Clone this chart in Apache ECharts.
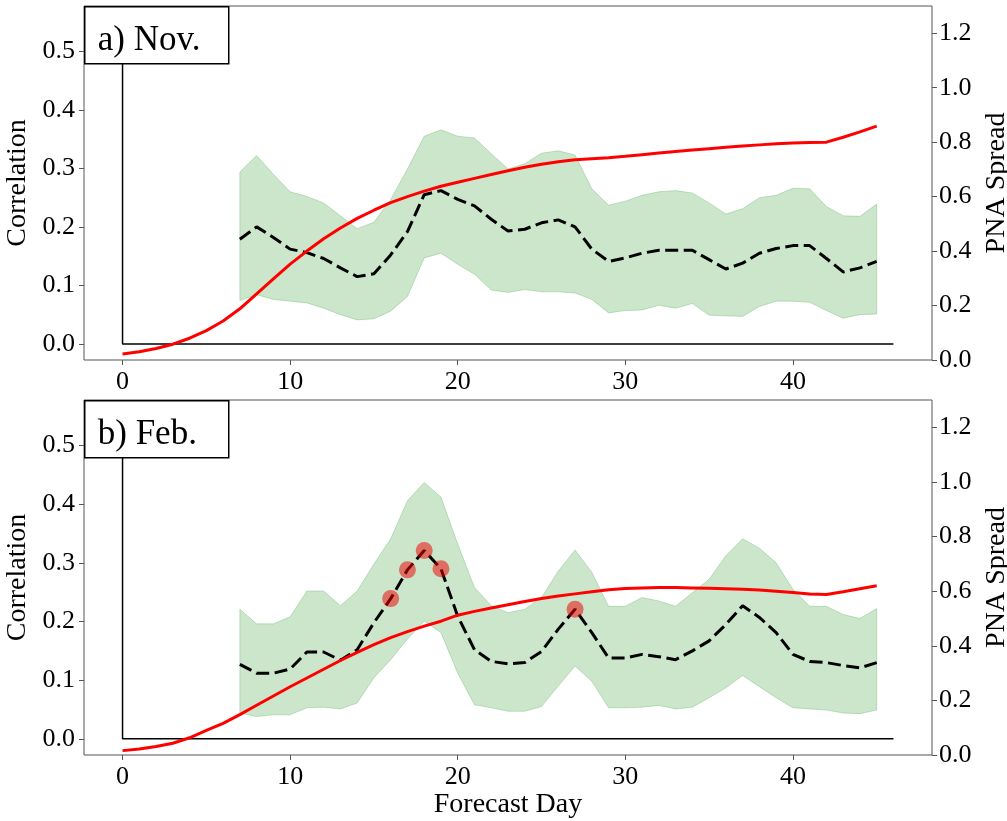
<!DOCTYPE html>
<html>
<head>
<meta charset="utf-8">
<script src="https://cdn.jsdelivr.net/npm/echarts@6/dist/echarts.min.js"></script>
<style>
  html, body { margin: 0; padding: 0; background: #fff; }
  #chart { width: 1007px; height: 821px; }
</style>
</head>
<body>
<div id="chart"></div>
<script>
// Forecast days
const spreadDays = [0,1,2,3,4,5,6,7,8,9,10,11,12,13,14,15,16,17,18,19,20,21,22,23,24,25,26,27,28,29,30,31,32,33,34,35,36,37,38,39,40,41,42,43,44,45];
const corrDays = [7,8,9,10,11,12,13,14,15,16,17,18,19,20,21,22,23,24,25,26,27,28,29,30,31,32,33,34,35,36,37,38,39,40,41,42,43,44,45];

// a) November: mean correlation, its spread band, and PNA spread
const novCorr  = [0.179,0.200,0.182,0.162,0.156,0.146,0.130,0.115,0.120,0.152,0.192,0.255,0.262,0.247,0.236,0.213,0.193,0.196,0.207,0.212,0.200,0.162,0.141,0.147,0.155,0.160,0.160,0.160,0.144,0.128,0.138,0.155,0.163,0.168,0.168,0.146,0.123,0.130,0.141];
const novUpper = [0.294,0.322,0.290,0.260,0.252,0.241,0.219,0.197,0.208,0.247,0.299,0.355,0.366,0.355,0.352,0.325,0.299,0.308,0.326,0.330,0.323,0.265,0.237,0.244,0.254,0.260,0.262,0.258,0.241,0.222,0.231,0.250,0.254,0.266,0.265,0.235,0.219,0.218,0.239];
const novLower = [0.074,0.084,0.076,0.073,0.070,0.061,0.050,0.041,0.043,0.056,0.081,0.147,0.155,0.136,0.119,0.092,0.088,0.093,0.089,0.089,0.087,0.076,0.053,0.057,0.058,0.066,0.061,0.069,0.049,0.048,0.047,0.064,0.073,0.073,0.071,0.057,0.044,0.050,0.051];
const novSpread = [0.022,0.030,0.042,0.058,0.080,0.108,0.143,0.188,0.243,0.298,0.352,0.400,0.445,0.485,0.520,0.550,0.578,0.600,0.620,0.638,0.653,0.667,0.681,0.695,0.708,0.719,0.728,0.735,0.739,0.743,0.748,0.754,0.760,0.766,0.771,0.776,0.781,0.786,0.790,0.794,0.797,0.799,0.800,0.818,0.838,0.859];

// b) February
const febCorr  = [0.127,0.112,0.112,0.119,0.148,0.148,0.134,0.152,0.198,0.239,0.288,0.321,0.290,0.209,0.152,0.132,0.128,0.130,0.149,0.187,0.221,0.181,0.138,0.138,0.144,0.140,0.135,0.150,0.167,0.195,0.227,0.207,0.181,0.144,0.132,0.130,0.125,0.121,0.130];
const febUpper = [0.221,0.196,0.196,0.208,0.252,0.252,0.227,0.252,0.298,0.341,0.406,0.437,0.412,0.332,0.258,0.227,0.215,0.221,0.241,0.286,0.322,0.284,0.226,0.226,0.241,0.235,0.226,0.249,0.272,0.312,0.341,0.325,0.300,0.255,0.226,0.226,0.212,0.205,0.222];
const febLower = [0.044,0.038,0.041,0.041,0.053,0.054,0.051,0.061,0.104,0.135,0.170,0.201,0.181,0.112,0.058,0.053,0.047,0.047,0.055,0.090,0.124,0.098,0.053,0.053,0.054,0.057,0.051,0.054,0.070,0.087,0.108,0.089,0.070,0.053,0.051,0.049,0.044,0.043,0.049];
const febSpread = [0.016,0.022,0.031,0.043,0.063,0.090,0.116,0.148,0.182,0.216,0.250,0.282,0.314,0.346,0.376,0.404,0.430,0.452,0.472,0.490,0.512,0.526,0.538,0.550,0.562,0.573,0.582,0.590,0.598,0.605,0.610,0.612,0.613,0.613,0.612,0.611,0.609,0.607,0.604,0.600,0.595,0.590,0.588,0.598,0.609,0.620];
// days whose correlation is marked as significant
const febSignifDays = [16,17,18,19,27];

// reference lines: x = 0 and y = 0
const refLine = [[0, 0.55], [0, 0], [46, 0]];

// tick labels
const xTicks = [0, 10, 20, 30, 40];
const corrTicks = [0, 0.1, 0.2, 0.3, 0.4, 0.5];
const spreadTicks = [0, 0.2, 0.4, 0.6, 0.8, 1.0, 1.2];
const panelTitles = ['a) Nov.', 'b) Feb.'];

const FONT = '"Liberation Serif", "Times New Roman", Times, serif';
const FRAME = '#555';

const chart = echarts.init(document.getElementById('chart'), null, { renderer: 'canvas' });

const grids = [
  { left: 84, top: 6, width: 848, height: 354 },
  { left: 84, top: 400, width: 848, height: 355 }
];

function xAxisFor(i) {
  return {
    type: 'value', gridIndex: i, min: -2.3, max: 48.3,
    name: i === 1 ? 'Forecast Day' : '',
    nameLocation: 'middle', nameGap: 36,
    nameTextStyle: { fontFamily: FONT, fontSize: 28, color: '#000' },
    axisLine: { show: false, onZero: false },
    axisTick: { show: true, inside: false, length: 5, customValues: xTicks, lineStyle: { color: FRAME, width: 1 } },
    axisLabel: { customValues: xTicks, fontFamily: FONT, fontSize: 26, color: '#000', margin: 9 },
    splitLine: { show: false }
  };
}
function corrAxisFor(i) {
  return {
    type: 'value', gridIndex: i, position: 'left', min: -0.0275, max: 0.5775,
    name: 'Correlation', nameLocation: 'middle', nameGap: 49, nameRotate: 90,
    nameTextStyle: { fontFamily: FONT, fontSize: 28, color: '#000' },
    axisLine: { show: false, onZero: false },
    axisTick: { show: true, inside: false, length: 5, customValues: corrTicks, lineStyle: { color: FRAME, width: 1 } },
    axisLabel: { customValues: corrTicks, formatter: v => v.toFixed(1), fontFamily: FONT, fontSize: 26, color: '#000', margin: 9 },
    splitLine: { show: false }
  };
}
function spreadAxisFor(i) {
  return {
    type: 'value', gridIndex: i, position: 'right', min: 0, max: 1.3,
    name: 'PNA Spread', nameLocation: 'middle', nameGap: 38, nameRotate: 90,
    nameTextStyle: { fontFamily: FONT, fontSize: 28, color: '#000' },
    axisLine: { show: false, onZero: false },
    axisTick: { show: true, inside: false, length: 5, customValues: spreadTicks, lineStyle: { color: FRAME, width: 1 } },
    axisLabel: { customValues: spreadTicks, formatter: v => v.toFixed(1), fontFamily: FONT, fontSize: 26, color: '#000', margin: 7 },
    splitLine: { show: false }
  };
}

function bandSeries(i, lo, hi) {
  return {
    type: 'custom', xAxisIndex: i, yAxisIndex: i * 2, z: 1, silent: true,
    data: corrDays.map((d, k) => [d, lo[k], hi[k]]),
    encode: { x: 0, y: [1, 2] },
    renderItem: function (params, api) {
      if (params.dataIndex !== 0) return { type: 'group', children: [] };
      const top = corrDays.map((d, k) => api.coord([d, hi[k]]));
      const bottom = corrDays.map((d, k) => api.coord([d, lo[k]])).reverse();
      return {
        type: 'polygon',
        shape: { points: top.concat(bottom) },
        style: { fill: 'rgba(0,128,0,0.2)', stroke: 'rgba(0,128,0,0.2)', lineWidth: 1 }
      };
    }
  };
}
function refSeries(i) {
  return {
    type: 'line', xAxisIndex: i, yAxisIndex: i * 2, z: 2, silent: true,
    data: refLine, symbol: 'none',
    lineStyle: { color: '#000', width: 1.5 }
  };
}
function corrSeries(i, vals) {
  return {
    type: 'line', xAxisIndex: i, yAxisIndex: i * 2, z: 3, silent: true,
    data: corrDays.map((d, k) => [d, vals[k]]), symbol: 'none',
    lineStyle: { color: '#000', width: 3, type: [13, 5.5] }
  };
}
function spreadSeries(i, vals) {
  return {
    type: 'line', xAxisIndex: i, yAxisIndex: i * 2 + 1, z: 4, silent: true,
    data: spreadDays.map((d, k) => [d, vals[k]]), symbol: 'none',
    lineStyle: { color: '#ff0000', width: 3 }
  };
}

const febSignif = febSignifDays.map(d => [d, febCorr[corrDays.indexOf(d)]]);

function titleBox(i, text) {
  const g = grids[i];
  return {
    type: 'group', left: g.left, top: g.top, z: 100,
    children: [
      { type: 'rect', z: 100, shape: { x: 0, y: 0, width: 144, height: 57 },
        style: { fill: '#fff', stroke: '#000', lineWidth: 1.5 } },
      { type: 'text', z: 101, x: 13, y: 34,
        style: { text: text, fontFamily: FONT, fontSize: 35, fill: '#000', verticalAlign: 'middle' } }
    ]
  };
}

chart.setOption({
  animation: false,
  backgroundColor: '#fff',
  grid: grids.map(g => Object.assign({ show: true, borderColor: FRAME, borderWidth: 1, backgroundColor: 'transparent', containLabel: false, outerBoundsMode: 'none' }, g)),
  xAxis: [xAxisFor(0), xAxisFor(1)],
  yAxis: [corrAxisFor(0), spreadAxisFor(0), corrAxisFor(1), spreadAxisFor(1)],
  series: [
    bandSeries(0, novLower, novUpper),
    refSeries(0),
    corrSeries(0, novCorr),
    spreadSeries(0, novSpread),
    bandSeries(1, febLower, febUpper),
    refSeries(1),
    corrSeries(1, febCorr),
    {
      type: 'scatter', xAxisIndex: 1, yAxisIndex: 2, z: 5, silent: true,
      data: febSignif, symbol: 'circle', symbolSize: 17,
      itemStyle: { color: 'rgba(235,0,0,0.65)' }
    },
    spreadSeries(1, febSpread)
  ],
  graphic: [titleBox(0, panelTitles[0]), titleBox(1, panelTitles[1])]
});
</script>
</body>
</html>
